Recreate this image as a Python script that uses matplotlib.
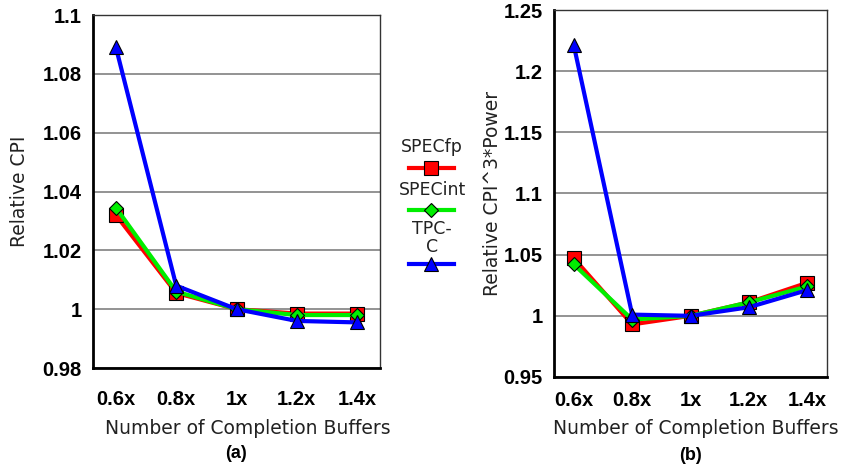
import numpy as np
import matplotlib
matplotlib.use('Agg')
import matplotlib.pyplot as plt
from matplotlib.lines import Line2D

buffers = ['0.6x', '0.8x', '1x', '1.2x', '1.4x']
series = ['SPECfp', 'SPECint', 'TPC-C']

cpi_fp = [1.032, 1.0055, 1.0, 0.9985, 0.9985]
cpi_int = [1.0345, 1.006, 1.0, 0.998, 0.998]
cpi_tpc = [1.089, 1.008, 1.0, 0.996, 0.9955]

ed_fp = [1.047, 0.993, 1.0, 1.011, 1.027]
ed_int = [1.042, 0.997, 1.0, 1.011, 1.024]
ed_tpc = [1.221, 1.001, 1.0, 1.007, 1.021]

styles = [dict(color='#ff0000', marker='s', ms=10),
          dict(color='#00ee00', marker='D', ms=7),
          dict(color='#0000ff', marker='^', ms=10)]

W, H = 843, 467
fig = plt.figure(figsize=(W / 100, H / 100), dpi=100)

def px(l, t, r, b):
    return [l / W, 1 - b / H, (r - l) / W, (b - t) / H]

tick_font = dict(family='Liberation Sans', weight='bold', size=14.5)
lab_font = dict(family='DejaVu Sans', size=13.5)

def panel(rect, data, ylim, yticks, ylabel, ylab_x, xlab_x, tag, tag_y, xpad, xtpad):
    ax = fig.add_axes(px(*rect))
    x = np.arange(len(buffers))
    for vals, st in zip(data, styles):
        ax.plot(x, vals, color=st['color'], lw=3, marker=st['marker'],
                ms=st['ms'], mfc=st['color'], mec='black', mew=0.8, zorder=3)
    ax.set_xlim(-xpad, len(buffers) - 1 + xpad)
    ax.set_ylim(*ylim)
    ax.set_yticks(yticks)
    ax.set_yticklabels(['%g' % v for v in yticks], fontdict=tick_font)
    ax.set_xticks(x)
    ax.set_xticklabels(buffers, fontdict=tick_font)
    ax.tick_params(length=0, pad=8)
    ax.tick_params(axis='x', pad=xtpad)
    ax.yaxis.grid(True, color='#808080', lw=1.2)
    ax.set_axisbelow(True)
    for s in ['left', 'bottom']:
        ax.spines[s].set_linewidth(2)
        ax.spines[s].set_color('black')
    for s in ['top', 'right']:
        ax.spines[s].set_linewidth(1)
        ax.spines[s].set_color('#333333')
    cx = (rect[0] + rect[2]) / 2
    cy = (rect[1] + rect[3]) / 2
    fig.text(ylab_x / W, 1 - cy / H, ylabel, rotation=90, ha='center',
             va='center', fontdict=lab_font, color='#222222')
    fig.text(xlab_x / W, 1 - 428 / H, 'Number of Completion Buffers',
             ha='center', va='center', fontdict=lab_font, color='#222222')
    fig.text(cx / W, 1 - tag_y / H, tag, ha='center', va='center',
             fontdict=dict(family='Liberation Sans', weight='bold', size=13))
    return ax

panel((93, 15, 380, 368), [cpi_fp, cpi_int, cpi_tpc], (0.98, 1.1),
      [0.98, 1.0, 1.02, 1.04, 1.06, 1.08, 1.1],
      'Relative CPI', 20, 248, '(a)', 454, 0.38, 16)
panel((554, 10, 827, 377), [ed_fp, ed_int, ed_tpc], (0.95, 1.25),
      [0.95, 1.0, 1.05, 1.1, 1.15, 1.2, 1.25],
      'Relative CPI^3*Power', 493, 696, '(b)', 455, 0.34, 10)

# legend between the panels: label above its line sample
leg_labels = ['SPECfp', 'SPECint', 'TPC-\nC']
text_y = [147, 190, 238]
line_y = [168, 210, 264]
for lab, ty, ly, st in zip(leg_labels, text_y, line_y, styles):
    fig.text(432 / W, 1 - ty / H, lab, ha='center', va='center',
             fontdict=dict(family='DejaVu Sans', size=12.5),
             linespacing=1.05, color='#222222')
    fig.add_artist(Line2D([409 / W, 454 / W], [1 - ly / H, 1 - ly / H],
                          color=st['color'], lw=3, transform=fig.transFigure))
    fig.add_artist(Line2D([431.5 / W], [1 - ly / H], ls='none',
                          marker=st['marker'], ms=st['ms'], mfc=st['color'],
                          mec='black', mew=0.8, transform=fig.transFigure))

fig.savefig('out.png', dpi=100)
